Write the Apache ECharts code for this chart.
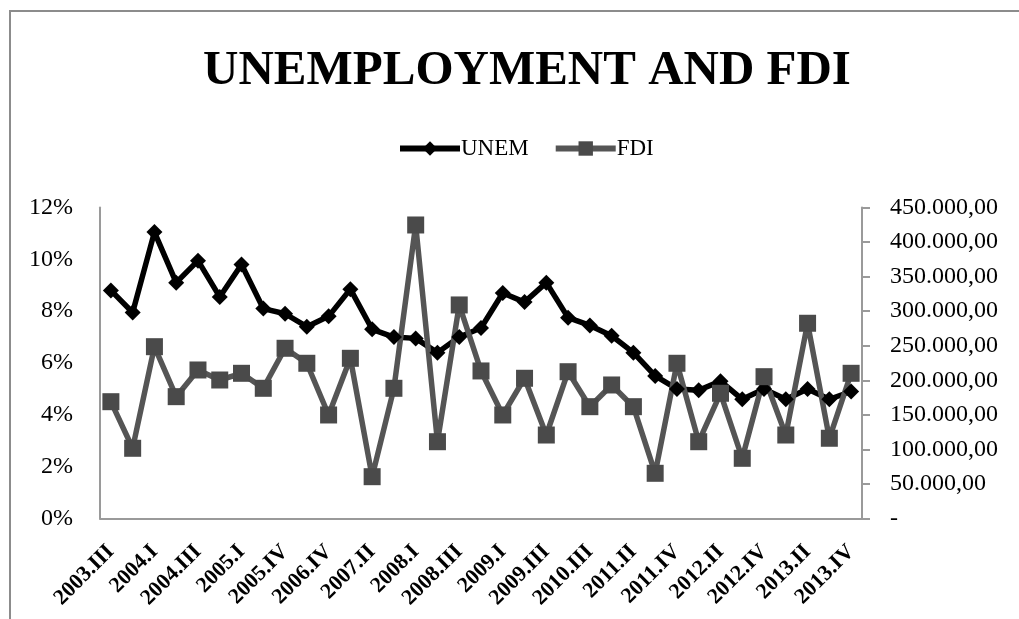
<!DOCTYPE html>
<html>
<head>
<meta charset="utf-8">
<script src="https://cdn.jsdelivr.net/npm/echarts@6/dist/echarts.min.js"></script>
<style>
html,body{margin:0;padding:0;background:#fff;}
#chart{width:1019px;height:619px;}
</style>
</head>
<body>
<div id="chart"></div>
<script>
var categories = ['2003.III','2003.IV','2004.I','2004.II','2004.III','2004.IV','2005.I','2005.II','2005.IV','2006.II',
  '2006.IV','2007.I','2007.II','2007.III','2008.I','2008.II','2008.III','2008.IV','2009.I','2009.II',
  '2009.III','2010.I','2010.III','2010.IV','2011.II','2011.III','2011.IV','2012.I','2012.II','2012.III',
  '2012.IV','2013.I','2013.II','2013.III','2013.IV'];
var unem = [8.8, 7.95, 11.05, 9.1, 9.95, 8.55, 9.8, 8.1, 7.9, 7.4,
  7.8, 8.85, 7.3, 7.0, 6.95, 6.4, 7.0, 7.35, 8.7, 8.35,
  9.1, 7.75, 7.45, 7.05, 6.4, 5.5, 5.0, 4.95, 5.3, 4.6,
  5.0, 4.6, 5.0, 4.6, 4.9];
var fdi = [169000, 101600, 248600, 176300, 214900, 200400, 210100, 188400, 246300, 224600,
  149800, 231800, 60500, 188400, 424700, 111100, 309000, 213500, 149800, 202900,
  120800, 212400, 161800, 193200, 161800, 65400, 224600, 111100, 181200, 87100,
  205200, 120800, 282500, 116100, 210100];
var leftTicks = {min: 0, max: 12, interval: 2};
var rightTicks = {min: 0, max: 450000, interval: 50000};

function fmtMoney(v) {
  if (v === 0) return '-';
  var s = String(Math.round(v));
  var out = '';
  while (s.length > 3) { out = '.' + s.slice(-3) + out; s = s.slice(0, -3); }
  return s + out + ',00';
}

var serif = '"Liberation Serif", "DejaVu Serif", serif';
var axisGray = '#9a9a9a';

var chart = echarts.init(document.getElementById('chart'), null, {renderer: 'canvas'});
chart.setOption({
  backgroundColor: '#ffffff',
  animation: false,
  graphic: [{
    type: 'rect', silent: true, z: -10,
    shape: {x: 10, y: 11, width: 1100, height: 700},
    style: {fill: 'none', stroke: '#8c8c8c', lineWidth: 2}
  }],
  title: {
    text: 'UNEMPLOYMENT AND FDI',
    left: 522, top: 42, textAlign: 'center',
    textStyle: {fontFamily: serif, fontWeight: 'bold', fontSize: 49, color: '#000'}
  },
  legend: {
    top: 132, left: 392, align: 'left',
    itemWidth: 60, itemHeight: 18, itemGap: 24,
    textStyle: {fontFamily: serif, fontSize: 23, color: '#000', padding: [0, 0, 0, -4]},
    data: [
      {name: 'UNEM', lineStyle: {width: 6, color: '#000'}, itemStyle: {color: '#000'}},
      {name: 'FDI', lineStyle: {width: 6, color: '#555555'}, itemStyle: {color: '#4a4a4a'}}
    ]
  },
  grid: {left: 100, right: 157, top: 207.5, bottom: 100.5, containLabel: false},
  xAxis: {
    type: 'category', data: categories, boundaryGap: true,
    axisLine: {show: true, lineStyle: {color: axisGray, width: 2}},
    axisTick: {show: false},
    axisLabel: {interval: 1, rotate: 45, margin: 30, fontFamily: serif, fontWeight: 'bold', fontSize: 22, color: '#000'},
    splitLine: {show: false}
  },
  yAxis: [{
    type: 'value', min: leftTicks.min, max: leftTicks.max, interval: leftTicks.interval, position: 'left',
    axisLine: {show: true, lineStyle: {color: axisGray, width: 2}},
    axisTick: {show: false},
    axisLabel: {formatter: '{value}%', margin: 27, fontFamily: serif, fontSize: 24, color: '#000'},
    splitLine: {show: false}
  }, {
    type: 'value', min: rightTicks.min, max: rightTicks.max, interval: rightTicks.interval, position: 'right',
    axisLine: {show: true, lineStyle: {color: axisGray, width: 2}},
    axisTick: {show: true, inside: false, length: 8, lineStyle: {color: axisGray, width: 2}},
    axisLabel: {formatter: fmtMoney, margin: 28, align: 'left', fontFamily: serif, fontSize: 24, color: '#000'},
    splitLine: {show: false}
  }],
  series: [{
    name: 'UNEM', type: 'line', yAxisIndex: 0, data: unem,
    symbol: 'diamond', symbolSize: 16, showSymbol: true, showAllSymbol: true,
    lineStyle: {color: '#000', width: 5.5},
    itemStyle: {color: '#000'}
  }, {
    name: 'FDI', type: 'line', yAxisIndex: 1, data: fdi,
    symbol: 'rect', symbolSize: 17, showSymbol: true, showAllSymbol: true,
    lineStyle: {color: '#555555', width: 5.5},
    itemStyle: {color: '#4a4a4a'}
  }]
});
</script>
</body>
</html>
